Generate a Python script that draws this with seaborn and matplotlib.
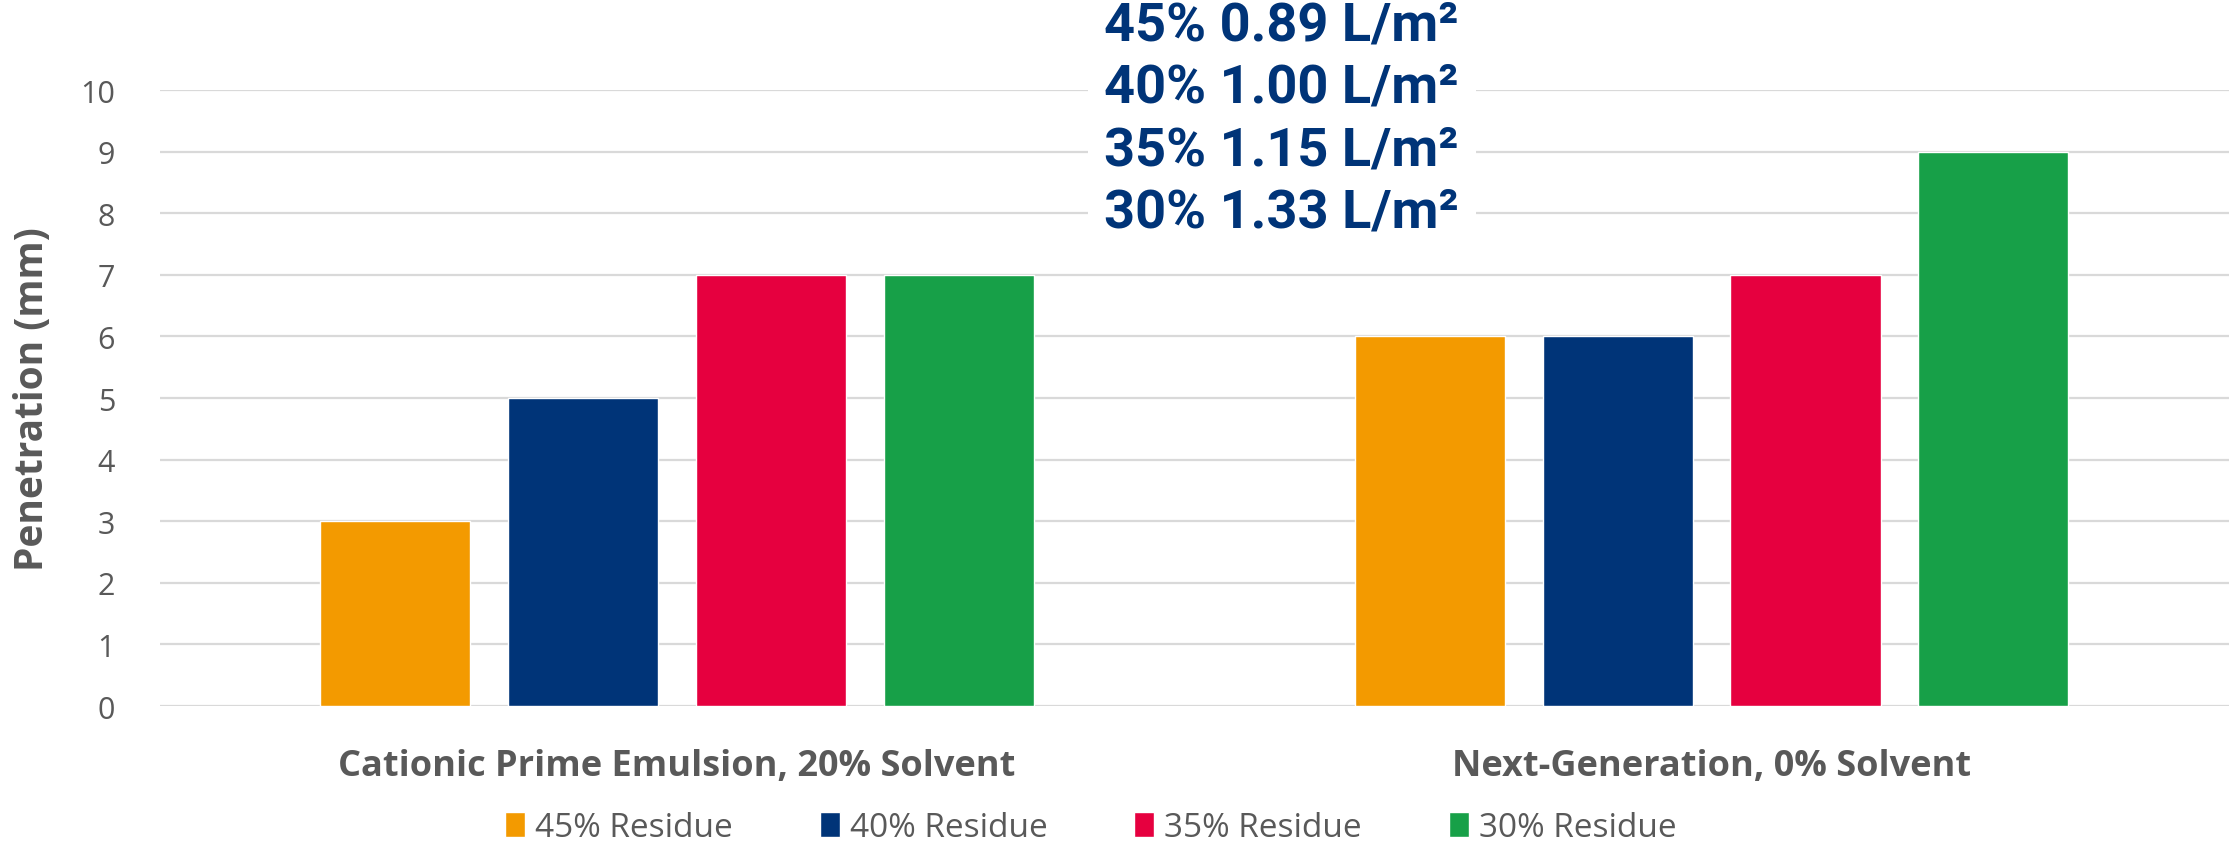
import matplotlib
matplotlib.use("Agg")
import matplotlib.pyplot as plt
import seaborn as sns
import pandas as pd

# Chart data
categories = ["Cationic Prime Emulsion, 20% Solvent", "Next-Generation, 0% Solvent"]
residues = ["45% Residue", "40% Residue", "35% Residue", "30% Residue"]
penetration_cationic = [3, 5, 7, 7]
penetration_nextgen = [6, 6, 7, 9]
rate_labels = ["45% 0.89 L/m²", "40% 1.00 L/m²", "35% 1.15 L/m²", "30% 1.33 L/m²"]
rate_label_y = [11.05, 10.05, 9.03, 8.02]
y_ticks = list(range(0, 11))

colors = ["#F39A00", "#003478", "#E6003F", "#17A048"]
gray = "#595959"

df = pd.DataFrame({
    "Product": [categories[0]] * 4 + [categories[1]] * 4,
    "Residue": residues * 2,
    "Penetration": penetration_cationic + penetration_nextgen,
})

sns.set_style("white")
plt.rcParams["font.family"] = ["Open Sans", "DejaVu Sans"]

fig = plt.figure(figsize=(22.29, 8.45), dpi=100)
ax = fig.add_axes([0.0716, 0.1633, 0.9284, 0.7290])

sns.barplot(data=df, x="Product", y="Penetration", hue="Residue",
            hue_order=residues, palette=colors, width=0.726, gap=0.2,
            saturation=1, ax=ax, legend=True, zorder=3)

ax.set_xlim(-0.5, 1.5)
ax.set_ylim(0, 10)
ax.set_yticks(y_ticks)
ax.yaxis.grid(True, color="#D9D9D9", linewidth=1.6, zorder=0)
ax.xaxis.grid(False)
ax.set_axisbelow(True)
for s in ax.spines.values():
    s.set_visible(False)
ax.tick_params(axis="both", length=0)
ax.tick_params(axis="y", labelsize=22, labelcolor=gray, pad=32)
ax.tick_params(axis="x", pad=30)
for lbl in ax.get_xticklabels():
    lbl.set_fontsize(26)
    lbl.set_fontweight("bold")
    lbl.set_color(gray)
ax.set_xlabel("")
ax.set_ylabel("Penetration (mm)", fontsize=28, fontweight="bold", color=gray, labelpad=20)

# Application-rate annotation above the bars
for txt, yv in zip(rate_labels, rate_label_y):
    ax.text(0.5845, yv, txt, ha="center", va="center", fontsize=39,
            fontweight="bold", color="#003478", family=["Roboto", "DejaVu Sans"],
            clip_on=False, zorder=5,
            bbox=dict(facecolor="white", edgecolor="none", pad=12))

leg = ax.legend(loc="center", bbox_to_anchor=(0.45, -0.197), ncol=4,
                frameon=False, fontsize=24, handlelength=0.6, handleheight=0.8,
                handletextpad=0.3, columnspacing=2.6, borderpad=0)
for t in leg.get_texts():
    t.set_color(gray)

fig.savefig("out.png", dpi=100)
